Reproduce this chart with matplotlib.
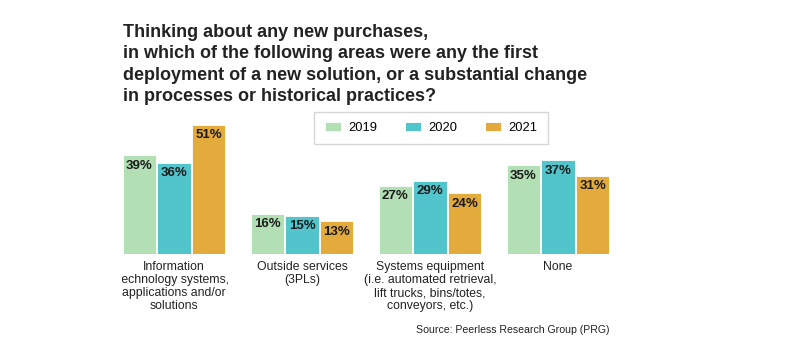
import matplotlib
matplotlib.use("Agg")
import matplotlib.pyplot as plt
from matplotlib.patches import Rectangle
import numpy as np

plt.rcParams['font.family'] = ['Liberation Sans', 'DejaVu Sans']

categories = [
    "Information\ntechnology systems,\napplications and/or\nsolutions",
    "Outside services\n(3PLs)",
    "Systems equipment\n(i.e. automated retrieval,\nlift trucks, bins/totes,\nconveyors, etc.)",
    "None",
]
years = ["2019", "2020", "2021"]
values_2019 = [39, 16, 27, 35]
values_2020 = [36, 15, 29, 37]
values_2021 = [51, 13, 24, 31]
colors = ["#b2dfb4", "#52c4cc", "#e3aa3c"]

title = ("Thinking about any new purchases,\n"
         "in which of the following areas were any the first\n"
         "deployment of a new solution, or a substantial change\n"
         "in processes or historical practices?")

W, H = 800, 346
fig = plt.figure(figsize=(W / 100, H / 100), dpi=100)

# plot area covers the figure width; baseline sits 92 px from the bottom
ax = fig.add_axes([0, 92 / H, 1, 1 - 92 / H])
x = np.arange(len(categories))
width = 0.26
step = 0.272

for i, vals in enumerate([values_2019, values_2020, values_2021]):
    bars = ax.bar(x + (i - 1) * step, vals, width, color=colors[i],
                  edgecolor="white", linewidth=0.6, label=years[i])
    for b, v in zip(bars, vals):
        ax.annotate(f"{v}%", (b.get_x() + b.get_width() / 2, v),
                    xytext=(0, -7.5), textcoords="offset points",
                    ha="center", va="center", fontsize=9.5,
                    fontweight="bold", color="#1a1a1a")

ax.set_xlim(-174 / 128, (W - 174) / 128)
ax.set_ylim(0, 254 / 2.53)
ax.set_xticks(x)
ax.set_xticklabels(categories, fontsize=8.8, color="#222222", linespacing=1.12)
ax.tick_params(axis="x", length=0, pad=5)
ax.set_yticks([])
for s in ax.spines.values():
    s.set_visible(False)

leg = ax.legend(loc="center", bbox_to_anchor=(431 / W, 1 - 128 / H),
                bbox_transform=fig.transFigure, ncol=3, frameon=True,
                fancybox=False, edgecolor="#cccccc", fontsize=9.3,
                handlelength=1.25, handleheight=0.7, handletextpad=0.6,
                columnspacing=2.1, borderpad=0.8)
leg.get_frame().set_linewidth(1.0)

fig.text(123 / W, 1 - 24 / H, title, ha="left", va="top", fontsize=13,
         fontweight="bold", color="#222222", linespacing=1.33)
fig.text(610 / W, 1 - 330 / H, "Source: Peerless Research Group (PRG)",
         ha="right", va="center", fontsize=7.6, color="#222222")

# blank strip on the left edge of the graphic
fig.patches.append(Rectangle((0, 0), 122 / W, 1, transform=fig.transFigure,
                             facecolor="white", edgecolor="none", zorder=20))

fig.savefig("out.png", dpi=100, facecolor="white")
